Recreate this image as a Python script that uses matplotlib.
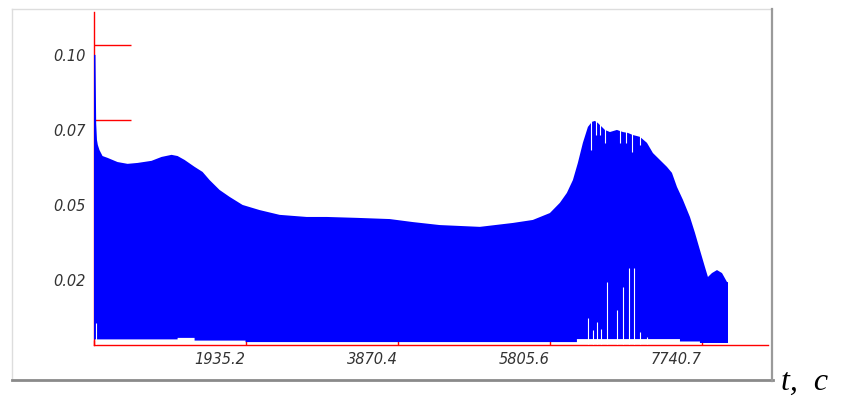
import matplotlib
matplotlib.use("Agg")
import matplotlib.pyplot as plt
from matplotlib.lines import Line2D

# upper envelope of the signal (t, amplitude)
upper_t = [0, 25, 34, 44, 55, 76, 115, 178, 306, 433, 560, 738, 866, 993, 1070,
           1159, 1286, 1388, 1477, 1604, 1731, 1897, 2113, 2368, 2712, 2967, 3349,
           3769, 4062, 4405, 4915, 5335, 5589, 5806, 5933, 6022, 6099, 6162, 6226,
           6290, 6341, 6379, 6417, 6468, 6506, 6570, 6659, 6735, 6799, 6863, 6952,
           7041, 7117, 7206, 7295, 7359, 7423, 7499, 7588, 7652, 7715, 7779, 7817,
           7868, 7932, 7996, 8060, 8072]
upper_v = [0.1000, 0.1000, 0.0773, 0.0717, 0.0700, 0.0683, 0.0663, 0.0657, 0.0643,
           0.0637, 0.0640, 0.0647, 0.0660, 0.0667, 0.0663, 0.0650, 0.0627, 0.0610,
           0.0583, 0.0550, 0.0527, 0.0500, 0.0483, 0.0467, 0.0460, 0.0460, 0.0457,
           0.0453, 0.0443, 0.0433, 0.0427, 0.0440, 0.0450, 0.0473, 0.0507, 0.0540,
           0.0583, 0.0640, 0.0707, 0.0760, 0.0777, 0.0780, 0.0773, 0.0760, 0.0750,
           0.0743, 0.0750, 0.0743, 0.0740, 0.0733, 0.0727, 0.0707, 0.0673, 0.0650,
           0.0627, 0.0607, 0.0560, 0.0517, 0.0460, 0.0407, 0.0350, 0.0293, 0.0260,
           0.0273, 0.0283, 0.0273, 0.0243, 0.0243]

# lower boundary of the signal
lower_t = [0, 1070, 1070, 1286, 1286, 1935, 1935, 6150, 6150, 7461, 7461, 7715, 7715, 8072]
lower_v = [0.0052, 0.0052, 0.0057, 0.0057, 0.0048, 0.0048, 0.0043, 0.0043,
           0.0053, 0.0053, 0.0045, 0.0045, 0.0040, 0.0040]

# thin white gaps rising from the bottom
low_gap_t = [30, 6290, 6353, 6404, 6455, 6532, 6659, 6735, 6812, 6875, 6952, 7041]
low_gap_v = [0.0107, 0.0123, 0.0083, 0.0110, 0.0087, 0.0243, 0.0150, 0.0227,
             0.0290, 0.0290, 0.0077, 0.0060]

# thin white gaps dropping from the top of the envelope
top_gap_t = [6328, 6392, 6443, 6506, 6697, 6773, 6850, 6952]
top_gap_v = [0.0683, 0.0733, 0.0733, 0.0707, 0.0707, 0.0707, 0.0677, 0.0700]

# red level marks
mark_levels = [0.1033, 0.0783]

xticks = [0, 1935.2, 3870.4, 5805.6, 7740.7]
xtick_labels = ["", "1935.2", "3870.4", "5805.6", "7740.7"]
yticks = [0.025, 0.05, 0.075, 0.10]
ytick_labels = ["0.02", "0.05", "0.07", "0.10"]

W, H = 847, 396
fig = plt.figure(figsize=(W / 100, H / 100), dpi=100)
ax = fig.add_axes([93.5 / W, 51 / H, (768 - 93.5) / W, (345 - 12) / H])

blue = "#0000ff"
red = "#ff0000"
label_grey = "#333333"

# the signal sits on top of the red axis lines, as in the original
ax.fill(upper_t + lower_t[::-1], upper_v + lower_v[::-1], color=blue, lw=0, zorder=6)
ax.vlines(low_gap_t, 0.0038, low_gap_v, color="white", lw=0.8, zorder=7)
ax.vlines(top_gap_t, top_gap_v, 0.09, color="white", lw=0.8, zorder=7)
ax.hlines(mark_levels, 0, 471, color=red, lw=1, zorder=4)

ax.set_xlim(0, 8581)
ax.set_ylim(0.00333, 0.1143)

for s in ["top", "right"]:
    ax.spines[s].set_visible(False)
for s in ["left", "bottom"]:
    ax.spines[s].set_color(red)
    ax.spines[s].set_linewidth(1)
    ax.spines[s].set_zorder(5)

ax.set_xticks(xticks)
ax.set_xticklabels(xtick_labels)
ax.set_yticks(yticks)
ax.set_yticklabels(ytick_labels)
ax.tick_params(axis="x", direction="in", length=3.5, width=1, color=red, pad=5,
               labelsize=10.5, labelcolor=label_grey)
ax.tick_params(axis="y", length=0, pad=6, labelsize=10.5, labelcolor=label_grey)
for lab in ax.get_xticklabels() + ax.get_yticklabels():
    lab.set_fontstyle("italic")
for lab in ax.get_xticklabels():
    lab.set_ha("right")

# panel frame (light top/left, darker bottom/right)
def px_line(x0, y0, x1, y1, color, lw):
    fig.add_artist(Line2D([x0 / W, x1 / W], [1 - y0 / H, 1 - y1 / H],
                          transform=fig.transFigure, color=color, lw=lw))

px_line(12, 9, 772, 9, "#dddddd", 1)
px_line(12, 9, 12, 380, "#dddddd", 1)
px_line(12, 380, 773, 380, "#8a8a8a", 2)
px_line(772, 9, 772, 381, "#9a9a9a", 1.6)

fig.text(781 / W, 1 - 390 / H, "t,  c", fontsize=23, family="Liberation Serif",
         style="italic", ha="left", va="baseline", color="black")

fig.savefig("out.png", dpi=100)
